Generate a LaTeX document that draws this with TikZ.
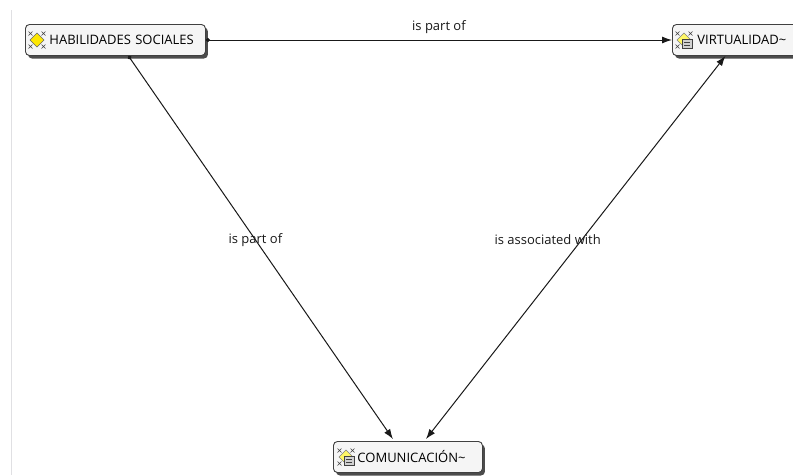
\documentclass[tikz,border=0pt]{standalone}
\usepackage{fontspec}
\setmainfont{Open Sans}
\usetikzlibrary{arrows.meta,shadows,positioning}

\tikzset{
  concept/.style={draw=black!75, line width=0.9pt, rounded corners=4pt,
    fill=black!4, minimum height=31pt, inner xsep=4pt, anchor=west, align=left,
    font=\fontsize{13}{15}\selectfont,
    drop shadow={shadow xshift=2.5pt, shadow yshift=-3pt, fill=black!70, opacity=1}},
  rel/.style={line width=1pt, draw=black!90, -{Latex[length=10pt,width=7pt]}},
  lbl/.style={font=\fontsize{13}{15}\selectfont, text=black!90},
  tick/.style={draw=black!75, line width=0.6pt},
}

% small marks in front of the concept names
\newcommand{\skillmark}[1]{%
  \foreach \dx/\dy in {-6.5/-6.5,6.5/-6.5,-6.5/6.5,6.5/6.5}
    \draw[tick] ([xshift=\dx pt-2pt, yshift=\dy pt-2pt]#1) -- ([xshift=\dx pt+2pt, yshift=\dy pt+2pt]#1)
      ([xshift=\dx pt+2pt, yshift=\dy pt-2pt]#1) -- ([xshift=\dx pt-2pt, yshift=\dy pt+2pt]#1);
  \draw[black!60, fill=yellow!90!orange, line width=0.5pt]
    ([xshift=-7pt]#1) -- ([yshift=-7pt]#1) -- ([xshift=7pt]#1) -- ([yshift=7pt]#1) -- cycle;
}
\newcommand{\memomark}[1]{%
  \foreach \dx/\dy in {-6.5/-6.5,6.5/6.5,-6.5/6.5}
    \draw[tick] ([xshift=\dx pt-2pt, yshift=\dy pt-2pt]#1) -- ([xshift=\dx pt+2pt, yshift=\dy pt+2pt]#1)
      ([xshift=\dx pt+2pt, yshift=\dy pt-2pt]#1) -- ([xshift=\dx pt-2pt, yshift=\dy pt+2pt]#1);
  \draw[black!50, fill=yellow!60!white, line width=0.5pt]
    ([xshift=-7pt]#1) -- ([yshift=-7pt]#1) -- ([xshift=7pt]#1) -- ([yshift=7pt]#1) -- cycle;
  \draw[tick, fill=black!18]
    ([xshift=-2pt, yshift=1pt]#1) rectangle ([xshift=8pt, yshift=-8pt]#1);
  \draw[tick]
    ([xshift=0pt, yshift=-2pt]#1) -- ([xshift=6pt, yshift=-2pt]#1)
    ([xshift=0pt, yshift=-5pt]#1) -- ([xshift=6pt, yshift=-5pt]#1);
}

\begin{document}
\begin{tikzpicture}[x=1pt,y=-1pt]
\useasboundingbox (0,0) rectangle (793,475);
\fill[white] (0,0) rectangle (793,475);
\draw[blue!8!black!12, line width=0.8pt] (11,10) -- (11,475);

\node[concept, text width=172pt] (hab) at (25,40) {\hspace{20pt}HABILIDADES SOCIALES};
\node[concept, text width=120pt] (vir) at (672,40) {\hspace{21pt}VIRTUALIDAD\textasciitilde};
\node[concept, text width=141pt] (com) at (333,457) {\hspace{20pt}COMUNICACIÓN\textasciitilde};

\coordinate (habmark) at ([xshift=12pt]hab.west);
\coordinate (virmark) at ([xshift=12pt]vir.west);
\coordinate (commark) at ([xshift=13pt]com.west);
\skillmark{habmark}
\memomark{virmark}
\memomark{commark}

\draw[rel, {Circle[length=4pt]}-{Latex[length=10pt,width=7pt]}] (hab.east) -- (vir.west)
  node[lbl, midway, above=3pt] {is part of};
\draw[rel, {Circle[length=4pt]}-{Latex[length=10pt,width=7pt]}]
  ([xshift=13pt]hab.south) -- ([xshift=-15pt,yshift=2pt]com.north)
  node[lbl, pos=0.48] {is part of};
\draw[rel, {Latex[length=10pt,width=7pt]}-{Latex[length=10pt,width=7pt]}]
  ([xshift=-11pt]vir.south) -- ([xshift=18pt,yshift=2pt]com.north)
  node[lbl, pos=0.48, xshift=-34pt] {is associated with};

\end{tikzpicture}
\end{document}
